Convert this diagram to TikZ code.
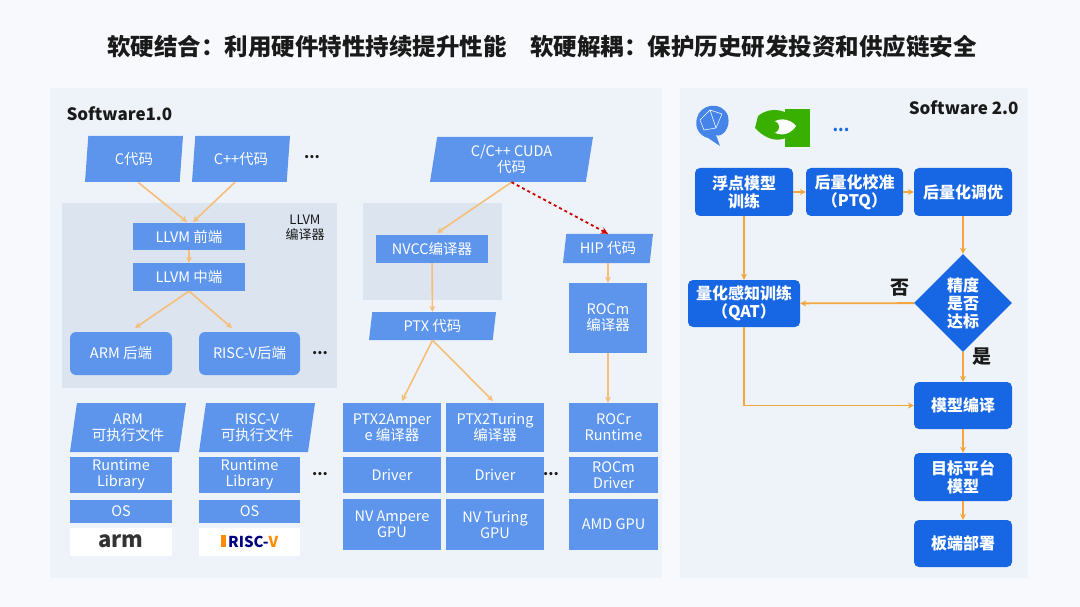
\documentclass[tikz,border=0pt]{standalone}
\usepackage{fontspec}
\setmainfont{Noto Sans CJK SC}
\usetikzlibrary{shapes.geometric,arrows.meta}
\definecolor{bgc}{HTML}{F7F9FC}
\definecolor{panel}{HTML}{EEF3FA}
\definecolor{grayb}{HTML}{DCE4EF}
\definecolor{lb}{HTML}{5D95EC}
\definecolor{db}{HTML}{1766E3}
\definecolor{org}{HTML}{F3A53E}
\definecolor{lorg}{HTML}{F6BE78}
\definecolor{txt}{HTML}{1A1A1A}
\tikzset{
 x=1pt,y=-1pt,
 lbox/.style={fill=lb,text=white,inner sep=0pt,align=center,font=\fontsize{14.5}{16}\selectfont},
 dbox/.style={fill=db,text=white,rounded corners=5pt,inner sep=0pt,align=center,font=\fontsize{16}{18}\selectfont\bfseries},
 para/.style={lbox,trapezium,trapezium left angle=76,trapezium right angle=104,trapezium stretches body},
 la/.style={draw=lorg,line width=1.6pt,-{Stealth[length=6pt,width=6pt]}},
 da/.style={draw=org,line width=1.8pt,-{Stealth[length=6pt,width=6pt]}},
 dots/.style={font=\bfseries\fontsize{15}{15}\selectfont,text=txt}
}
\begin{document}
\begin{tikzpicture}
\useasboundingbox (0,0) rectangle (1080,607);
\fill[bgc] (0,0) rectangle (1080,607);
\node[font=\fontsize{23.5}{26}\selectfont\bfseries,text=txt] (title) at (542,47) {软硬结合：利用硬件特性持续提升性能\quad 软硬解耦：保护历史研发投资和供应链安全};
\fill[panel] (50,88) rectangle (662,578);
\fill[panel] (680,88) rectangle (1028,578);
\node[anchor=west,font=\fontsize{17}{20}\selectfont\bfseries,text=txt] (s1) at (63,114) {Software1.0};
\node[anchor=east,font=\fontsize{17}{20}\selectfont\bfseries,text=txt] (s2) at (1022,108) {Software 2.0};
% grey boxes
\fill[grayb] (62,203) rectangle (337,388);
\fill[grayb] (363,203) rectangle (502,300);
\node[align=center,font=\fontsize{13}{15}\selectfont,text=txt] (llvml) at (305,228) {LLVM\\编译器};
% left column
\node[para,minimum width=98pt,minimum height=46pt] (c) at (134,159) {C代码};
\node[para,minimum width=98pt,minimum height=46pt] (cpp) at (241,159) {C++代码};
\node[dots] (d1) at (312,157) {...};
\node[lbox,minimum width=112pt,minimum height=27pt] (fe) at (189,236.5) {LLVM 前端};
\node[lbox,minimum width=112pt,minimum height=28pt] (me) at (189,277) {LLVM 中端};
\node[lbox,rounded corners=6pt,minimum width=102pt,minimum height=43pt] (armb) at (121,353.5) {ARM 后端};
\node[lbox,rounded corners=6pt,minimum width=101pt,minimum height=43pt] (rvb) at (249.5,353.5) {RISC-V后端};
\node[dots] (d2) at (320,353) {...};
\node[para,minimum width=116pt,minimum height=49pt] (armx) at (128,427.5) {ARM\\可执行文件};
\node[para,minimum width=116pt,minimum height=49pt] (rvx) at (257,427.5) {RISC-V\\可执行文件};
\node[lbox,minimum width=102pt,minimum height=36pt] (rt1) at (121,475) {Runtime\\Library};
\node[lbox,minimum width=101pt,minimum height=36pt] (rt2) at (249.5,475) {Runtime\\Library};
\node[dots] (d3) at (320,474) {...};
\node[lbox,minimum width=102pt,minimum height=23pt] (os1) at (121,511.5) {OS};
\node[lbox,minimum width=101pt,minimum height=23pt] (os2) at (249.5,511.5) {OS};
\node[fill=white,minimum width=102pt,minimum height=28pt,inner sep=0,font=\fontsize{22}{22}\selectfont\bfseries,text=black!80] (arm) at (121,541.5) {arm};
\node[fill=white,minimum width=101pt,minimum height=28pt,inner sep=0,font=\fontsize{15}{15}\selectfont\bfseries,text=blue!50!black] (rv) at (249.5,541.5) {\textcolor{orange!90!yellow}{\rule{5pt}{12pt}}\,RISC-\textcolor{orange!90!yellow}{V}};
% middle
\node[para,minimum width=163pt,minimum height=45pt] (cuda) at (511.5,159.5) {C/C++ CUDA\\代码};
\node[lbox,minimum width=112pt,minimum height=28pt] (nvcc) at (432,249) {NVCC编译器};
\node[para,minimum width=127pt,minimum height=28pt] (ptx) at (432.5,326) {PTX 代码};
\node[para,minimum width=90pt,minimum height=29pt] (hip) at (608,248.5) {HIP 代码};
\node[lbox,minimum width=78pt,minimum height=70pt] (rocm) at (608,318) {ROCm\\编译器};
\node[lbox,minimum width=98pt,minimum height=49pt] (pa) at (392,427.5) {PTX2Amper\\e 编译器};
\node[lbox,minimum width=98pt,minimum height=49pt] (pt) at (495,427.5) {PTX2Turing\\编译器};
\node[lbox,minimum width=98pt,minimum height=36pt] (dr1) at (392,475) {Driver};
\node[lbox,minimum width=98pt,minimum height=36pt] (dr2) at (495,475) {Driver};
\node[lbox,minimum width=98pt,minimum height=51pt] (g1) at (392,524.5) {NV Ampere\\GPU};
\node[lbox,minimum width=98pt,minimum height=51pt] (g2) at (495,524.5) {NV Turing\\GPU};
\node[dots] (d4) at (551,474) {...};
\node[lbox,minimum width=89pt,minimum height=49pt] (rocr) at (613.5,427.5) {ROCr\\Runtime};
\node[lbox,minimum width=89pt,minimum height=36pt] (rocd) at (613.5,475) {ROCm\\Driver};
\node[lbox,minimum width=89pt,minimum height=51pt] (amd) at (613.5,524.5) {AMD GPU};
% left arrows
\coordinate (c1) at (187,222); \coordinate (c2) at (193,222);
\draw[la] (c.south) ++(4,0) coordinate (cs) (cs) -- (c1);
\draw[la] (cpp.south) ++(-6,0) coordinate (cps) (cps) -- (c2);
\draw[la] (fe) -- (me);
\coordinate (ab) at (135,328); \coordinate (rb) at (232,328);
\draw[la] (me.south) -- (ab);
\draw[la] (me.south) -- (rb);
\coordinate (nv) at (437,233);
\draw[la] (cuda.south) -- (nv);
\draw[draw=red!80!black,line width=1.8pt,dashed,-{Stealth[length=7pt,width=7pt]}] (cuda.south) -- (hip.north);
\draw[la] (nvcc) -- (ptx);
\coordinate (pa1) at (402,401); \coordinate (pt1) at (493,401);
\draw[la] (ptx.south) -- (pa1);
\draw[la] (ptx.south) -- (pt1);
\draw[la] (hip) -- (rocm);
\draw[la] (rocm) -- (rocm |- rocr.north);
% right panel icons
\fill[db!80] (697,118) .. controls (700,104) and (722,100) .. (728,116) .. controls (731,128) and (722,138) .. (716,135) -- (720,146) -- (708,138) .. controls (700,136) and (694,128) .. (697,118) -- cycle;
\draw[white,line width=0.5pt] (700,120) -- (710,110) -- (722,114) -- (716,128) -- (704,130) -- (700,120) (710,110)--(716,128);
\fill[green!55!black!70!lime] (785,109) rectangle (810,147);
\fill[green!55!black!70!lime] (758,116) .. controls (770,106) and (788,108) .. (800,125) .. controls (788,144) and (770,144) .. (755,128) -- cycle;
\fill[white] (768,127) .. controls (776,116) and (790,118) .. (796,126) .. controls (790,136) and (776,138) .. (768,127) -- cycle;
\fill[green!55!black!70!lime] (773,127) circle (6);
\node[font=\fontsize{16}{16}\selectfont\bfseries,text=db] (d5) at (841,130) {...};
% right flow
\node[dbox,minimum width=98pt,minimum height=48pt] (fp) at (744,192) {浮点模型\\训练};
\node[dbox,minimum width=97pt,minimum height=48pt] (ptq) at (854.5,192) {后量化校准\\（PTQ）};
\node[dbox,minimum width=98pt,minimum height=48pt] (tune) at (963,192) {后量化调优};
\node[diamond,aspect=1,fill=db,text=white,inner sep=0pt,minimum width=98pt,minimum height=98pt,align=center,font=\fontsize{16}{18}\selectfont\bfseries] (acc) at (963,303) {精度\\是否\\达标};
\node[dbox,minimum width=112pt,minimum height=47pt] (qat) at (744,303.5) {量化感知训练\\（QAT）};
\node[dbox,minimum width=98pt,minimum height=47pt] (comp) at (963,405.5) {模型编译};
\node[dbox,minimum width=98pt,minimum height=48pt] (tgt) at (963,477) {目标平台\\模型};
\node[dbox,minimum width=98pt,minimum height=47pt] (dep) at (963,543.5) {板端部署};
\node[font=\fontsize{19}{19}\selectfont\bfseries,text=txt] (no) at (900,288) {否};
\node[font=\fontsize{19}{19}\selectfont\bfseries,text=txt] (yes) at (982,357) {是};
\draw[da] (fp) -- (qat);
\draw[da] (fp) -- (ptq);
\draw[da] (ptq) -- (tune);
\draw[da] (tune) -- (acc);
\draw[da] (acc) -- (qat);
\draw[da] (acc) -- (comp);
\draw[da] (qat.south) |- (comp.west);
\draw[da] (comp) -- (tgt);
\draw[da] (tgt) -- (dep);
\end{tikzpicture}
\end{document}
